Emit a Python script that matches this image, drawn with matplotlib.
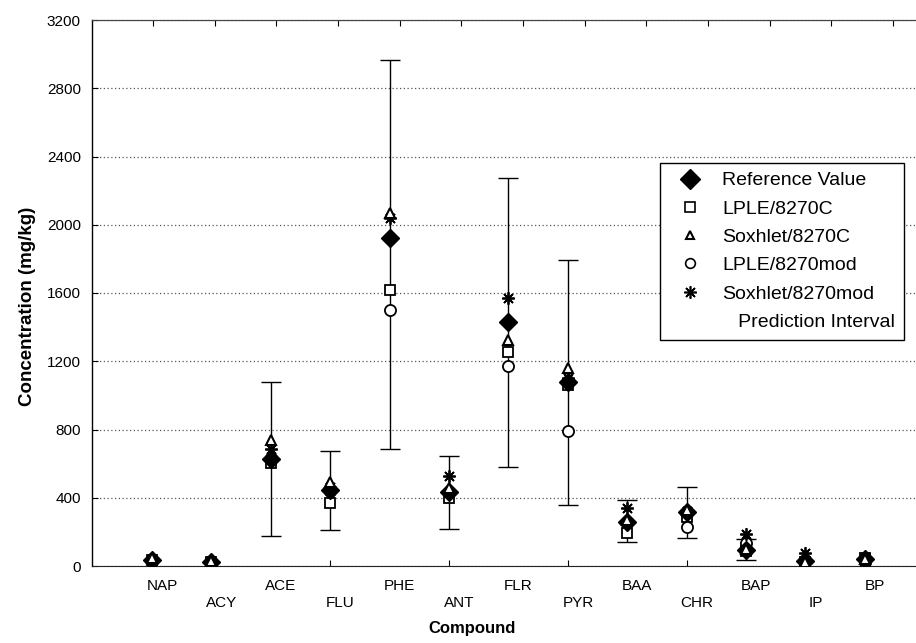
import numpy as np
import matplotlib
matplotlib.use("Agg")
import matplotlib.pyplot as plt
from matplotlib.lines import Line2D
from matplotlib.transforms import blended_transform_factory

plt.rcParams['font.family'] = ['Liberation Sans', 'DejaVu Sans']

compounds = ["NAP", "ACY", "ACE", "FLU", "PHE", "ANT", "FLR", "PYR",
             "BAA", "CHR", "BAP", "IP", "BP"]
reference = [38, 25, 627, 445, 1921, 432, 1428, 1080, 260, 315, 94, 30, 40]
lple_8270c = [35, 22, 602, 371, 1618, 397, 1256, 1061, 195, 285, 90, 25, 45]
sox_8270c = [45, 30, 738, 494, 2071, 457, 1325, 1159, 270, 330, 100, 22, 42]
lple_8270mod = [32, 22, 635, 440, 1500, 432, 1172, 791, 260, 227, 133, 35, 25]
sox_8270mod = [42, 28, 686, 465, 2040, 527, 1569, 1100, 338, 322, 190, 74, 55]
pi_low = [np.nan, np.nan, 178, 211, 686, 215, 582, 356, 141, 164, 35, np.nan, np.nan]
pi_high = [np.nan, np.nan, 1077, 674, 2966, 647, 2272, 1793, 387, 465, 158, np.nan, np.nan]

yticks = [0, 400, 800, 1200, 1600, 2000, 2400, 2800, 3200]

fig = plt.figure(figsize=(9.16, 6.43), dpi=100)
ax = fig.add_axes([92/916, 1-566/643, 1-92/916, (566-20)/643])

x = np.arange(len(compounds))
ref = np.array(reference, float)
lo = np.array(pi_low, float)
hi = np.array(pi_high, float)

# prediction intervals
ax.errorbar(x, ref, yerr=[ref - lo, hi - ref], fmt='none', ecolor='black',
            elinewidth=1.0, capsize=7.5, capthick=1.0, zorder=2)

ms_kw = dict(linestyle='none', zorder=3)
ax.plot(x, lple_8270c, marker='s', ms=7.5, mfc='white', mec='black', mew=1.3, **ms_kw)
ax.plot(x, lple_8270mod, marker='o', ms=8, mfc='white', mec='black', mew=1.3, **ms_kw)
ax.plot(x, reference, marker='D', ms=9, mfc='black', mec='black', mew=1.0, **ms_kw)
ax.plot(x, sox_8270mod, marker=(8, 2, 0), ms=9, mfc='black', mec='black', mew=1.3, **ms_kw)
ax.plot(x, sox_8270c, marker='^', ms=6.5, mfc='white', mec='black', mew=1.5, **ms_kw)

ax.set_xlim(-1.01, 12.86)
ax.set_ylim(0, 3200)
ax.set_yticks(yticks)
ax.set_yticklabels([str(v) for v in yticks], fontsize=11)
ax.yaxis.grid(True, linestyle=(0, (1, 2)), color='#555555', linewidth=0.9)
ax.set_axisbelow(True)

# bottom ticks at odd categories, labels placed manually (staggered)
ax.set_xticks(x[1::2])
ax.set_xticklabels([])
ax.tick_params(axis='x', direction='in', length=4, width=0.8)
ax.tick_params(axis='y', direction='in', length=4, width=0.8, pad=8)

trans = blended_transform_factory(ax.transData, fig.transFigure)
for i, name in enumerate(compounds):
    ypix = 586 if i % 2 == 0 else 603
    ax.text(i + 0.17, 1 - ypix/643, name, transform=trans, ha='center', va='center',
            fontsize=11, clip_on=False)

# top axis ticks
top = ax.secondary_xaxis('top')
top.set_xticks(np.linspace(0.02, 12.47, 13))
top.set_xticklabels([])
top.tick_params(direction='in', length=4, width=0.8)
top.spines['top'].set_color('#444444')

ax.spines['right'].set_visible(False)
ax.spines['top'].set_color('#444444')
ax.spines['bottom'].set_color('#222222')
ax.spines['left'].set_linewidth(1.0)

fig.text(472/916, 1-628/643, "Compound", ha='center', va='center', fontsize=12, fontweight='bold')
fig.text(28/916, 1-306/643, "Concentration (mg/kg)", ha='center', va='center', rotation=90,
         fontsize=13.5, fontweight='bold')

handles = [
    Line2D([], [], linestyle='none', marker='D', ms=10, mfc='black', mec='black'),
    Line2D([], [], linestyle='none', marker='s', ms=7, mfc='white', mec='black', mew=1.2),
    Line2D([], [], linestyle='none', marker='^', ms=6, mfc='white', mec='black', mew=1.5),
    Line2D([], [], linestyle='none', marker='o', ms=7, mfc='white', mec='black', mew=1.2),
    Line2D([], [], linestyle='none', marker=(8, 2, 0), ms=9, mfc='black', mec='black', mew=1.2),
    Line2D([], [], linestyle='none'),
]
labels = ["Reference Value", "LPLE/8270C", "Soxhlet/8270C", "LPLE/8270mod",
          "Soxhlet/8270mod", "   Prediction Interval"]
leg = fig.legend(handles, labels, loc='upper left', bbox_to_anchor=(660/916, 1-163/643),
                 fontsize=14, frameon=True, fancybox=False, edgecolor='black',
                 framealpha=1, borderpad=0.45, labelspacing=0.55, handlelength=2.2,
                 handletextpad=0.55, borderaxespad=0)
leg.get_frame().set_linewidth(1.0)

fig.savefig("out.png", dpi=100)
